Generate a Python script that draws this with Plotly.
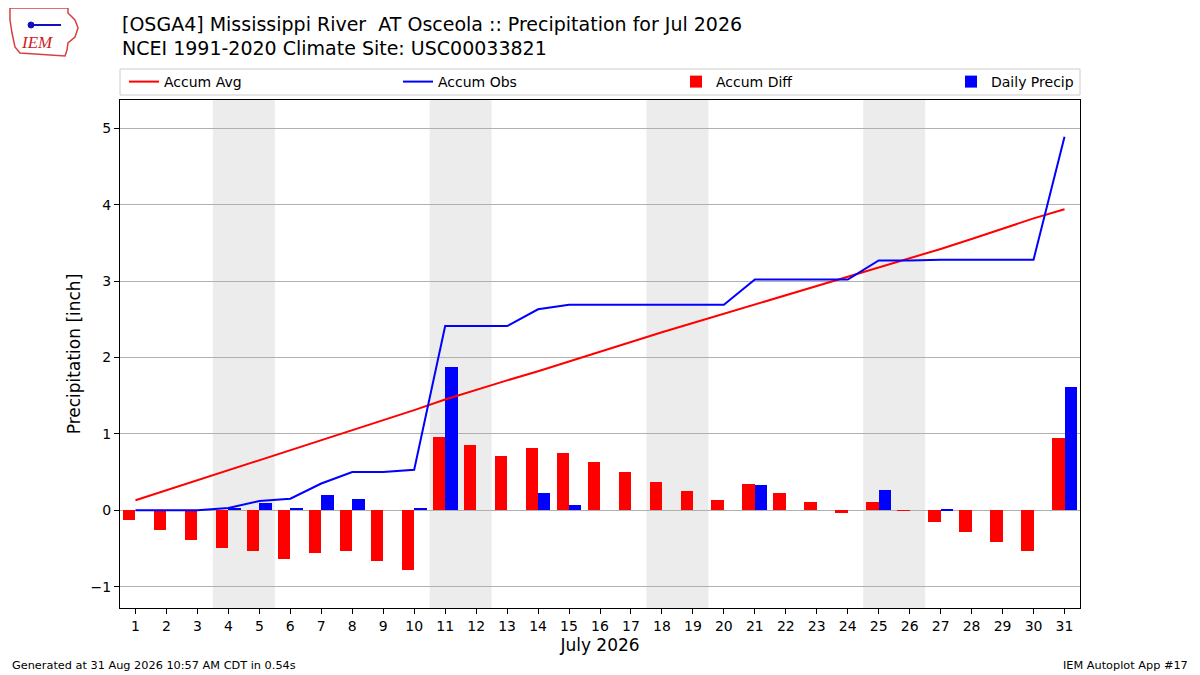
""" IEM autoplot 17 style: monthly precipitation accumulation """
import plotly.graph_objects as go

# Data (inches)
days = list(range(1, 32))
day_labels = [str(d) for d in days]
accum_avg = [0.13, 0.26, 0.39, 0.52, 0.66, 0.79, 0.91, 1.04, 1.17, 1.31,
             1.45, 1.57, 1.70, 1.82, 1.95, 2.07, 2.20, 2.33, 2.45, 2.57,
             2.69, 2.81, 2.93, 3.05, 3.17, 3.29, 3.42, 3.55, 3.69, 3.82, 3.94]
accum_obs = [0.00, 0.00, 0.00, 0.03, 0.12, 0.15, 0.35, 0.50, 0.50, 0.53,
             2.41, 2.41, 2.41, 2.63, 2.69, 2.69, 2.69, 2.69, 2.69, 2.69,
             3.02, 3.02, 3.02, 3.02, 3.27, 3.27, 3.28, 3.28, 3.28, 3.28, 4.89]
accum_diff = [-0.13, -0.26, -0.39, -0.50, -0.54, -0.64, -0.56, -0.54, -0.67, -0.78,
              0.96, 0.85, 0.71, 0.82, 0.75, 0.63, 0.50, 0.37, 0.25, 0.13,
              0.34, 0.22, 0.11, -0.03, 0.11, -0.01, -0.15, -0.28, -0.41, -0.54, 0.95]
daily_precip = [0.00, 0.00, 0.00, 0.03, 0.09, 0.03, 0.20, 0.15, 0.00, 0.03,
                1.88, 0.00, 0.00, 0.22, 0.07, 0.00, 0.00, 0.00, 0.00, 0.00,
                0.33, 0.00, 0.00, 0.00, 0.26, 0.00, 0.01, 0.00, 0.00, 0.00, 1.61]
weekends = [(4, 5), (11, 12), (18, 19), (25, 26)]

font = 'DejaVu Sans'
# page has an 8px body margin, so the figure margins are shifted by that amount
PW, PH = 960, 508  # plot area size in px


def px_x(x):
    # screen px -> paper x
    return (x - 120) / PW


def px_y(y):
    # screen px -> paper y
    return (608 - y) / PH


fig = go.Figure()

# weekend shading
for start, end in weekends:
    fig.add_vrect(x0=start - 0.5, x1=end + 0.5, fillcolor='#ececec', line_width=0, layer='below')

fig.add_scatter(x=days, y=accum_avg, name='Accum Avg', mode='lines',
                line=dict(color='red', width=2), legend='legend')
fig.add_scatter(x=days, y=accum_obs, name='Accum Obs', mode='lines',
                line=dict(color='blue', width=2), legend='legend2')
fig.add_bar(x=days, y=accum_diff, name='Accum Diff', width=0.4, offset=-0.4,
            marker=dict(color='red', line_width=0), legend='legend3')
fig.add_bar(x=days, y=daily_precip, name='Daily Precip', width=0.4, offset=0,
            marker=dict(color='blue', line_width=0), legend='legend4')

fig.update_xaxes(range=[0.5, 31.5], tickmode='array', tickvals=days, ticktext=day_labels,
                 ticks='outside', ticklen=5, tickcolor='black', showgrid=False,
                 showline=True, linecolor='black', linewidth=1, mirror=True,
                 tickfont=dict(size=14, color='black'),
                 title=dict(text='July 2026', font=dict(size=17, color='black'), standoff=6))
fig.update_yaxes(range=[-1.28, 5.37], tickvals=[-1, 0, 1, 2, 3, 4, 5],
                 ticks='outside', ticklen=5, tickcolor='black',
                 showgrid=True, gridcolor='#b0b0b0', gridwidth=1, zeroline=False,
                 showline=True, linecolor='black', linewidth=1, mirror=True,
                 tickfont=dict(size=14, color='black'),
                 title=dict(text='Precipitation [inch]', font=dict(size=17, color='black'), standoff=5))

leg_common = dict(orientation='h', xanchor='left', y=px_y(82), yanchor='middle',
                  bgcolor='rgba(0,0,0,0)', borderwidth=0, font=dict(size=14, color='black'))
fig.update_layout(
    width=1200, height=675,
    margin=dict(l=112, r=128, t=92, b=75),
    paper_bgcolor='white', plot_bgcolor='white',
    font=dict(family=font, color='black'),
    barmode='overlay', bargap=0,
    legend=dict(x=px_x(124), **leg_common),
    legend2=dict(x=px_x(398), **leg_common),
    legend3=dict(x=px_x(676), **leg_common),
    legend4=dict(x=px_x(951), **leg_common),
    showlegend=True,
)

# legend frame spanning the plot width
fig.add_shape(type='rect', xref='paper', yref='paper', x0=0, x1=1, y0=px_y(95), y1=px_y(69),
              line=dict(color='#cccccc', width=1), fillcolor='rgba(0,0,0,0)')

# title lines
fig.add_annotation(text='[OSGA4] Mississippi River \u00a0AT Osceola :: Precipitation for Jul 2026',
                   xref='paper', yref='paper', x=0, y=px_y(24), xanchor='left', yanchor='middle',
                   showarrow=False, font=dict(size=19, color='black'))
fig.add_annotation(text='NCEI 1991-2020 Climate Site: USC00033821',
                   xref='paper', yref='paper', x=0, y=px_y(48), xanchor='left', yanchor='middle',
                   showarrow=False, font=dict(size=19, color='black'))

# logo stand-in: state outline, station glyph and IEM lettering
outline = [(10, 8), (68, 8), (68, 13), (75, 20), (78, 28), (75, 37), (68, 43),
           (67, 50), (65, 56), (20, 53), (15, 47), (12, 33), (10, 20)]
path = 'M ' + ' L '.join('{:.4f},{:.4f}'.format(px_x(a), px_y(b)) for a, b in outline) + ' Z'
fig.add_shape(type='path', xref='paper', yref='paper', path=path,
              line=dict(color='#d84040', width=1.5))
fig.add_shape(type='line', xref='paper', yref='paper', x0=px_x(30), x1=px_x(61), y0=px_y(25), y1=px_y(25),
              line=dict(color='#1010c0', width=2))
fig.add_shape(type='circle', xref='paper', yref='paper', x0=px_x(28), x1=px_x(34), y0=px_y(28), y1=px_y(22),
              line=dict(color='#1010c0', width=1), fillcolor='#1010c0')
fig.add_annotation(text='<i>IEM</i>', xref='paper', yref='paper', x=px_x(37), y=px_y(43),
                   showarrow=False, font=dict(family='Liberation Serif', size=17, color='#cc2222'),
                   xanchor='center', yanchor='middle')

# footer
fig.add_annotation(text='Generated at 31 Aug 2026 10:57 AM CDT in 0.54s', xref='paper', yref='paper',
                   x=px_x(10), y=px_y(665), xanchor='left', yanchor='middle', showarrow=False,
                   font=dict(size=11.3, color='black'))
fig.add_annotation(text='IEM Autoplot App #17', xref='paper', yref='paper',
                   x=px_x(1190), y=px_y(665), xanchor='right', yanchor='middle', showarrow=False,
                   font=dict(size=11.3, color='black'))

fig.write_html('out.html')
